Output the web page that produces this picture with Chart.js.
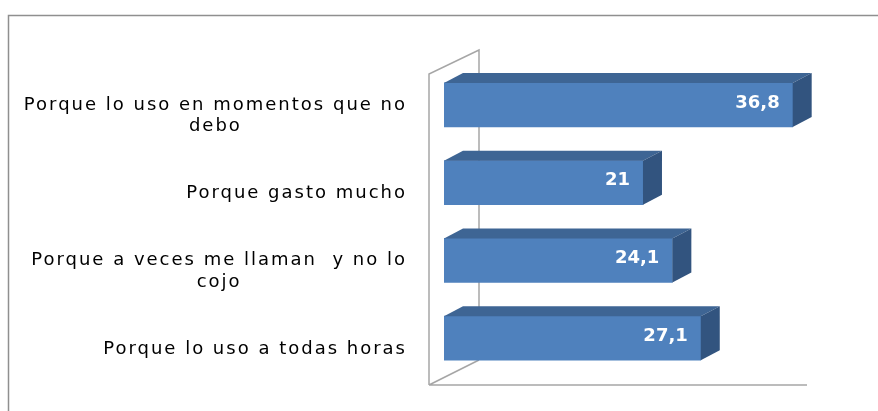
<!DOCTYPE html>
<html>
<head>
<meta charset="utf-8">
<script src="https://cdn.jsdelivr.net/npm/chart.js@4"></script>
<style>
  body { margin: 0; background: #fff; }
  #wrap { width: 878px; height: 411px; position: relative; }
</style>
</head>
<body>
<div id="wrap"><canvas id="chart"></canvas></div>
<script>
// chart data
const categories = [
  ['Porque lo uso en momentos que no', 'debo'],
  'Porque gasto mucho',
  ['Porque a veces me llaman  y no lo', 'cojo'],
  'Porque lo uso a todas horas'
];
const values = [36.8, 21, 24.1, 27.1];
const valueLabels = ['36,8', '21', '24,1', '27,1'];
const axisMax = 40;

// fake 3D depth of the bars
const depthX = 19, depthY = 10;

const frame = {
  id: 'frame',
  beforeDraw(chart) {
    const ctx = chart.ctx;
    ctx.save();
    ctx.fillStyle = '#fff';
    ctx.fillRect(0, 0, chart.width, chart.height);
    ctx.strokeStyle = '#8f8f8f';
    ctx.lineWidth = 1.5;
    ctx.strokeRect(8.5, 15.5, 1000, 1000);
    ctx.restore();
  },
  beforeDatasetsDraw(chart) {
    const ctx = chart.ctx, a = chart.chartArea;
    ctx.save();
    ctx.strokeStyle = '#a6a6a6';
    ctx.lineWidth = 1.5;
    ctx.beginPath();
    // side wall
    ctx.moveTo(a.left - 15, a.bottom + 8);
    ctx.lineTo(a.left - 15, a.top + 8);
    ctx.lineTo(a.left + 35, a.top - 16);
    ctx.lineTo(a.left + 35, a.bottom - 17);
    // floor
    ctx.moveTo(a.left - 15, a.bottom + 8);
    ctx.lineTo(a.right - 16, a.bottom + 8);
    ctx.moveTo(a.left - 15, a.bottom + 8);
    ctx.lineTo(a.left + 35, a.bottom - 17);
    ctx.stroke();

    // category labels: block right-aligned, lines centered in the block
    const ys = chart.scales.y;
    ctx.font = '18px "DejaVu Sans"';
    ctx.letterSpacing = '2px';
    ctx.fillStyle = '#000';
    ctx.textAlign = 'center';
    ctx.textBaseline = 'middle';
    const lh = 21.6;
    categories.forEach((c, i) => {
      const lines = Array.isArray(c) ? c : [c];
      const w = Math.max(...lines.map(l => ctx.measureText(l).width));
      const cx = ys.right - 37 - w / 2;
      const y0 = ys.getPixelForTick(i) + 11 - (lines.length - 1) * lh / 2;
      lines.forEach((l, k) => ctx.fillText(l, cx, y0 + k * lh));
    });
    ctx.restore();
  },
  afterDatasetsDraw(chart) {
    const ctx = chart.ctx;
    const meta = chart.getDatasetMeta(0);
    ctx.save();
    meta.data.forEach((bar, i) => {
      const p = bar.getProps(['x', 'y', 'base', 'height'], true);
      const top = p.y - p.height / 2, bottom = p.y + p.height / 2;
      // top face
      ctx.fillStyle = '#3e6594';
      ctx.beginPath();
      ctx.moveTo(p.base, top);
      ctx.lineTo(p.base + depthX, top - depthY);
      ctx.lineTo(p.x + depthX, top - depthY);
      ctx.lineTo(p.x, top);
      ctx.closePath();
      ctx.fill();
      // side face
      ctx.fillStyle = '#32547f';
      ctx.beginPath();
      ctx.moveTo(p.x, top);
      ctx.lineTo(p.x + depthX, top - depthY);
      ctx.lineTo(p.x + depthX, bottom - depthY);
      ctx.lineTo(p.x, bottom);
      ctx.closePath();
      ctx.fill();
      // value label
      ctx.fillStyle = '#fff';
      ctx.font = 'bold 18px "DejaVu Sans"';
      ctx.textAlign = 'right';
      ctx.textBaseline = 'middle';
      ctx.fillText(valueLabels[i], p.x - 13, p.y - 2);
    });
    ctx.restore();
  }
};

new Chart(document.getElementById('chart'), {
  type: 'bar',
  data: {
    labels: categories,
    datasets: [{
      data: values,
      backgroundColor: '#4f81bd',
      barThickness: 44
    }]
  },
  options: {
    indexAxis: 'y',
    responsive: true,
    maintainAspectRatio: false,
    animation: false,
    layout: { padding: { left: 0, right: 55, top: 66, bottom: 34 } },
    plugins: {
      legend: { display: false },
      tooltip: { enabled: false }
    },
    scales: {
      x: { display: false, min: 0, max: axisMax },
      y: {
        grid: { display: false, drawTicks: false },
        border: { display: false },
        ticks: { display: false },
        afterFit(scale) {
          scale.width = 444;
          scale.paddingTop = 0;
          scale.paddingBottom = 0;
        }
      }
    }
  },
  plugins: [frame]
});
</script>
</body>
</html>
